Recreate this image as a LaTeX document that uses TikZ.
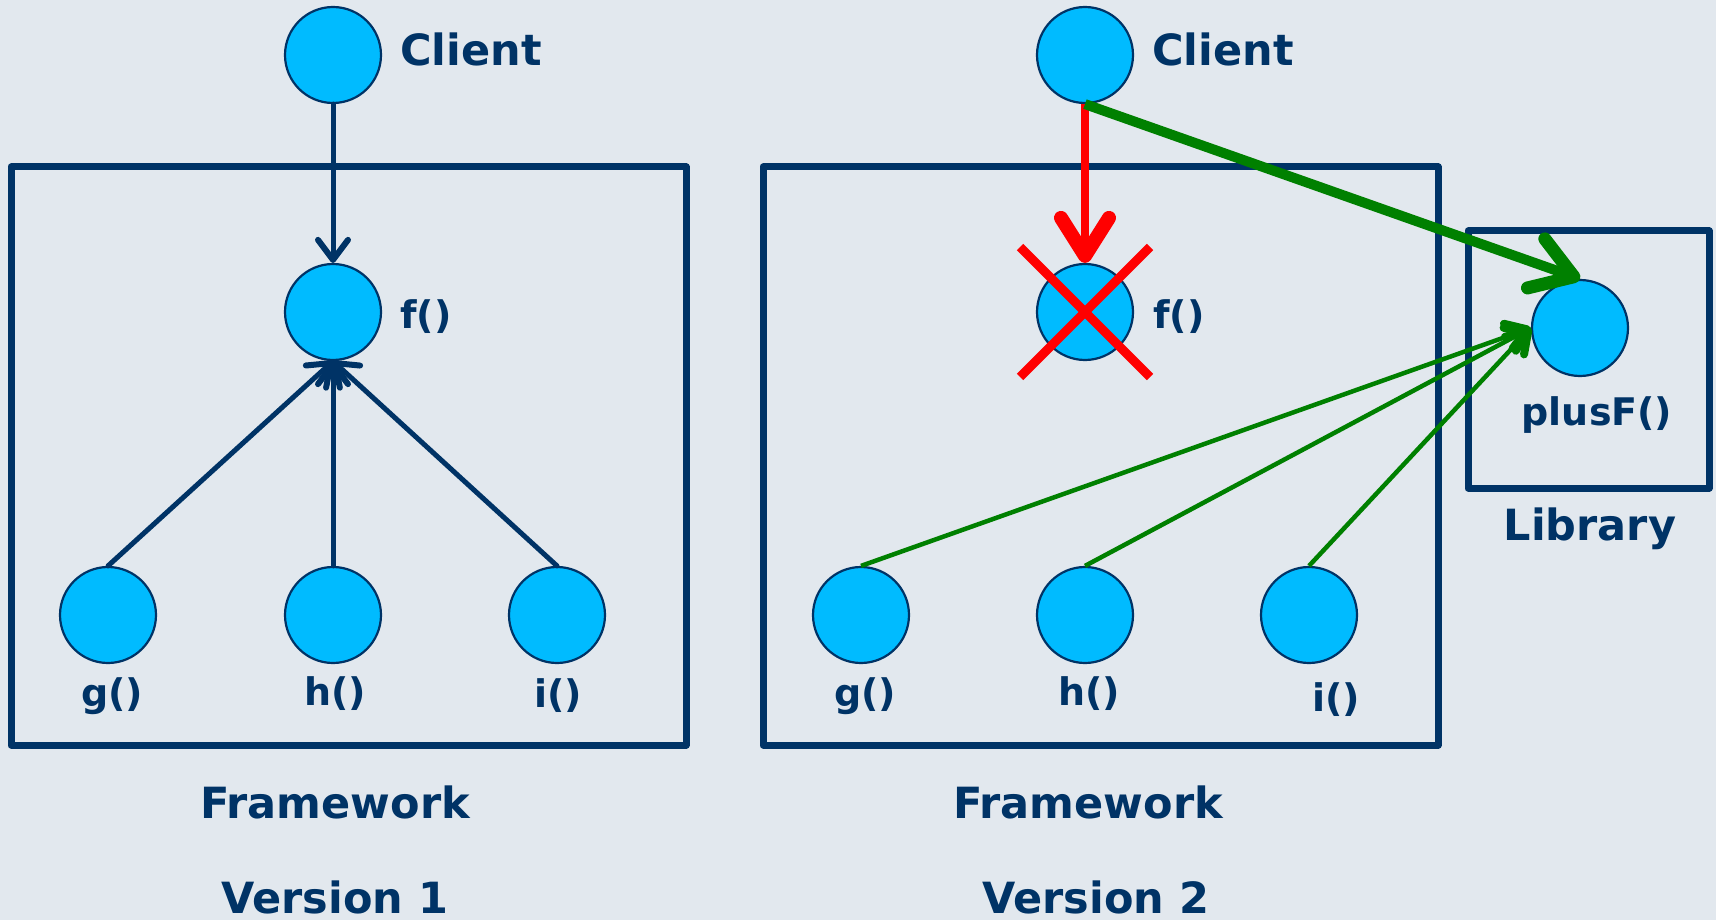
\documentclass[tikz,border=0pt]{standalone}
\usepackage{fontspec}
\setmainfont{DejaVu Sans}
\usetikzlibrary{arrows.meta,calc}
\definecolor{navy}{RGB}{0,51,102}
\definecolor{sky}{RGB}{0,187,255}
\definecolor{bg}{RGB}{226,232,238}
\definecolor{grn}{RGB}{0,128,0}
\definecolor{redx}{RGB}{255,0,0}
\begin{document}
\begin{tikzpicture}[x=1pt,y=-1pt,
  fn/.style={circle,draw=navy,line width=2.2pt,fill=sky,minimum size=96pt,inner sep=0pt},
  lbl/.style={text=navy,font=\fontsize{38}{40}\selectfont\bfseries,inner sep=0pt},
  big/.style={text=navy,font=\fontsize{43}{46}\selectfont\bfseries,inner sep=0pt},
  frame/.style={draw=navy,line width=7pt,line join=round},
  navyarrow/.style={draw=navy,line width=5pt,line cap=round,-{Straight Barb[length=20pt,width=30pt,line width=6pt,round]}},
  redarrow/.style={draw=redx,line width=8pt,-{Straight Barb[length=38pt,width=48pt,line width=14pt,round]}},
  redcross/.style={draw=redx,line width=9pt},
  greenbig/.style={draw=grn,line width=10pt,-{Straight Barb[length=40pt,width=52pt,line width=13pt,round]}},
  greenthin/.style={draw=grn,line width=4.5pt,-{Straight Barb[length=20pt,width=26pt,line width=8pt,round]}}
]
\fill[bg] (0,0) rectangle (1716,920);
\useasboundingbox (0,0) rectangle (1716,920);

% frames
\draw[frame] (11,167) rectangle (686,745);
\draw[frame] (763,167) rectangle (1438,745);
\draw[frame] (1468,231) rectangle (1709,488);

% Version 1
\node[fn] (c1) at (333,55) {};
\node[fn] (f1) at (333,312) {};
\node[fn] (g1) at (108,615) {};
\node[fn] (h1) at (333,615) {};
\node[fn] (i1) at (557,615) {};
\node[big,anchor=west] (c1l) at (400,49) {Client};
\node[lbl] (f1l) at (426,317) {f()};
\node[lbl] (g1l) at (112,696) {g()};
\node[lbl] (h1l) at (335,694) {h()};
\node[lbl] (i1l) at (558,696) {i()};
\node[big] (fw1) at (335,802) {Framework};
\node[big] (v1) at (335,897) {Version 1};

\draw[navyarrow] (c1.south) -- (f1.north);
\draw[navyarrow] (g1.north) -- (f1.south);
\draw[navyarrow] (h1.north) -- (f1.south);
\draw[navyarrow] (i1.north) -- (f1.south);

% Version 2
\node[fn] (c2) at (1085,55) {};
\node[fn] (f2) at (1085,312) {};
\node[fn] (g2) at (861,615) {};
\node[fn] (h2) at (1085,615) {};
\node[fn] (i2) at (1309,615) {};
\node[fn] (p) at (1580,328) {};
\node[big,anchor=west] (c2l) at (1152,49) {Client};
\node[lbl] (f2l) at (1179,317) {f()};
\node[lbl] (g2l) at (865,696) {g()};
\node[lbl] (h2l) at (1089,694) {h()};
\node[lbl] (i2l) at (1336,700) {i()};
\node[lbl] (pl) at (1597,415) {plusF()};
\node[big] (lib) at (1590,529) {Library};
\node[big] (fw2) at (1088,802) {Framework};
\node[big] (v2) at (1096,897) {Version 2};

\draw[redarrow] (c2.south) -- (f2.north);
\draw[redcross] ([shift={(-65,-65)}]f2.center) -- ([shift={(65,65)}]f2.center);
\draw[redcross] ([shift={(-65,65)}]f2.center) -- ([shift={(65,-65)}]f2.center);
\draw[greenbig] (c2.south) -- (p.north);
\draw[greenthin] (g2.north) -- (p.west);
\draw[greenthin] (h2.north) -- (p.west);
\draw[greenthin] (i2.north) -- (p.west);
\end{tikzpicture}
\end{document}
